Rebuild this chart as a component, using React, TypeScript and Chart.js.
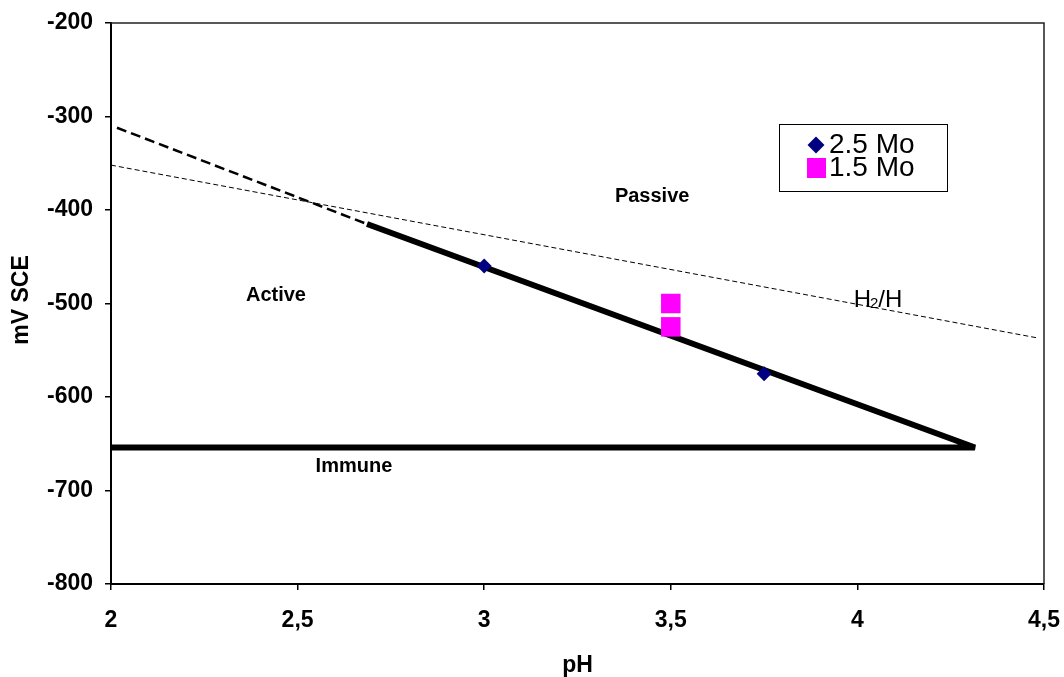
import React, { useEffect, useRef } from "react";
import { Chart, registerables } from "chart.js";

Chart.register(...registerables);

// ---- data ----
const phDiamond = [3.0, 3.75];
const mvDiamond = [-460, -575];
const phSquare = [3.5, 3.5];
const mvSquare = [-500, -525];
// boundary active/passive + immune line (one polyline)
const phBoundary = [2.686, 4.315, 2.0];
const mvBoundary = [-415, -654, -654];
// dashed extrapolation of the boundary
const phBoundaryExt = [2.016, 2.686];
const mvBoundaryExt = [-312, -415];
// H2/H equilibrium line
const phH2 = [2.0, 4.485];
const mvH2 = [-352, -537];

const xTicks = [2, 2.5, 3, 3.5, 4, 4.5];
const yTicks = [-200, -300, -400, -500, -600, -700, -800];

const regionLabels = ["Passive", "Active", "Immune"];
const regionPh = [3.45, 2.442, 2.651];
const regionMv = [-386, -491.5, -674];

const h2Label = ["H", "2", "/H"];
const h2LabelPh = 3.99;
const h2LabelMv = -504;

const seriesNames = ["2.5 Mo", "1.5 Mo"];
const xTitle = "pH";
const yTitle = "mV SCE";

const FONT = '"Liberation Sans", Arial, sans-serif';

const pts = (xs: number[], ys: number[]) => xs.map((x, i) => ({ x, y: ys[i] }));

const overlay = {
  id: "overlay",
  afterDraw(chart: any) {
    const { ctx, chartArea, scales } = chart;
    const xs = scales.x;
    const ys = scales.y;
    ctx.save();
    // top and right frame
    ctx.strokeStyle = "#222";
    ctx.lineWidth = 1.5;
    ctx.beginPath();
    ctx.moveTo(chartArea.left, chartArea.top);
    ctx.lineTo(chartArea.right, chartArea.top);
    ctx.lineTo(chartArea.right, chartArea.bottom);
    ctx.stroke();

    // region labels
    ctx.fillStyle = "#000";
    ctx.font = `bold 20px ${FONT}`;
    ctx.textAlign = "center";
    ctx.textBaseline = "middle";
    regionLabels.forEach((t, i) => {
      ctx.fillText(t, xs.getPixelForValue(regionPh[i]), ys.getPixelForValue(regionMv[i]));
    });

    // H2/H label
    ctx.textAlign = "left";
    ctx.textBaseline = "alphabetic";
    let hx = xs.getPixelForValue(h2LabelPh);
    const hy = ys.getPixelForValue(h2LabelMv);
    ctx.font = `24px ${FONT}`;
    ctx.fillText(h2Label[0], hx, hy);
    hx += ctx.measureText(h2Label[0]).width - 1;
    ctx.font = `15px ${FONT}`;
    ctx.fillText(h2Label[1], hx, hy + 1);
    hx += ctx.measureText(h2Label[1]).width;
    ctx.font = `24px ${FONT}`;
    ctx.fillText(h2Label[2], hx, hy);

    // axis titles
    ctx.font = `bold 23px ${FONT}`;
    ctx.textAlign = "center";
    ctx.textBaseline = "alphabetic";
    ctx.fillText(xTitle, (chartArea.left + chartArea.right) / 2, 672);
    ctx.save();
    ctx.translate(28, 300);
    ctx.rotate(-Math.PI / 2);
    ctx.fillText(yTitle, 0, 0);
    ctx.restore();

    // legend
    const lx = chartArea.left + 668;
    const ly = 124;
    const lw = 168;
    const lh = 67;
    ctx.fillStyle = "#fff";
    ctx.fillRect(lx, ly, lw, lh);
    ctx.strokeStyle = "#000";
    ctx.lineWidth = 1;
    ctx.strokeRect(lx + 0.5, ly + 0.5, lw, lh);
    const ds = chart.data.datasets;
    // diamond
    const dcx = lx + 37, dcy = ly + 21;
    ctx.fillStyle = ds[0].backgroundColor;
    ctx.beginPath();
    ctx.moveTo(dcx, dcy - 8.5);
    ctx.lineTo(dcx + 8.5, dcy);
    ctx.lineTo(dcx, dcy + 8.5);
    ctx.lineTo(dcx - 8.5, dcy);
    ctx.closePath();
    ctx.fill();
    // square
    ctx.fillStyle = ds[1].backgroundColor;
    ctx.fillRect(lx + 28, ly + 34, 19, 20);
    ctx.fillStyle = "#000";
    ctx.font = `28px ${FONT}`;
    ctx.textAlign = "left";
    ctx.fillText(seriesNames[0], lx + 50, ly + 29);
    ctx.fillText(seriesNames[1], lx + 50, ly + 52);
    ctx.restore();
  },
};

export default function App() {
  const ref = useRef<HTMLCanvasElement>(null);
  useEffect(() => {
    if (!ref.current) return;
    const chart = new Chart(ref.current, {
      type: "scatter",
      data: {
        datasets: [
          {
            label: seriesNames[0],
            data: pts(phDiamond, mvDiamond),
            pointStyle: "rectRot",
            pointRadius: 7.5,
            backgroundColor: "#000080",
            borderColor: "#000080",
            borderWidth: 0,
          },
          {
            label: seriesNames[1],
            data: pts(phSquare, mvSquare),
            pointStyle: "rect",
            pointRadius: 13.8,
            backgroundColor: "#FF00FF",
            borderColor: "#FF00FF",
            borderWidth: 0,
          },
          {
            label: "boundary",
            data: pts(phBoundary, mvBoundary),
            showLine: true,
            pointRadius: 0,
            borderColor: "#000",
            borderWidth: 6,
            borderJoinStyle: "bevel",
            tension: 0,
          },
          {
            label: "boundary ext",
            data: pts(phBoundaryExt, mvBoundaryExt),
            showLine: true,
            pointRadius: 0,
            borderColor: "#000",
            borderWidth: 2.5,
            borderDash: [10, 5],
            tension: 0,
          },
          {
            label: "H2/H",
            data: pts(phH2, mvH2),
            showLine: true,
            pointRadius: 0,
            borderColor: "#000",
            borderWidth: 1,
            borderDash: [5, 3],
            tension: 0,
          },
        ],
      },
      options: {
        responsive: false,
        animation: false,
        devicePixelRatio: 1,
        layout: { padding: { left: 0, top: 23, right: 20, bottom: 0 } },
        plugins: {
          legend: { display: false },
          tooltip: { enabled: false },
          title: { display: false },
        },
        scales: {
          x: {
            type: "linear",
            min: 2,
            max: 4.5,
            afterFit: (s: any) => {
              s.height = 93;
              s.paddingLeft = 0;
              s.paddingRight = 0;
            },
            afterBuildTicks: (s: any) => {
              s.ticks = xTicks.map((v) => ({ value: v }));
            },
            ticks: {
              color: "#000",
              font: { family: FONT, size: 23, weight: "bold" },
              padding: 17,
              maxRotation: 0,
              autoSkip: false,
              callback: (v: any) => String(v).replace(".", ","),
            },
            grid: {
              drawOnChartArea: false,
              drawTicks: true,
              tickLength: 6,
              color: "#000",
              lineWidth: 1.5,
            },
            border: { display: true, color: "#000", width: 2 },
          },
          y: {
            type: "linear",
            min: -800,
            max: -200,
            afterFit: (s: any) => {
              s.width = 111;
              s.paddingTop = 0;
              s.paddingBottom = 0;
            },
            afterBuildTicks: (s: any) => {
              s.ticks = yTicks.map((v) => ({ value: v }));
            },
            ticks: {
              color: "#000",
              font: { family: FONT, size: 23, weight: "bold" },
              padding: 12,
              autoSkip: false,
              callback: (v: any) => String(v),
            },
            grid: {
              drawOnChartArea: false,
              drawTicks: true,
              tickLength: 6,
              color: "#000",
              lineWidth: 1.5,
            },
            border: { display: true, color: "#000", width: 2 },
          },
        },
      },
      plugins: [overlay],
    } as any);
    return () => chart.destroy();
  }, []);
  return (
    <div style={{ position: "absolute", left: 0, top: 0, width: 1064, height: 677, background: "#fff" }}>
      <canvas ref={ref} width={1064} height={677} />
    </div>
  );
}
